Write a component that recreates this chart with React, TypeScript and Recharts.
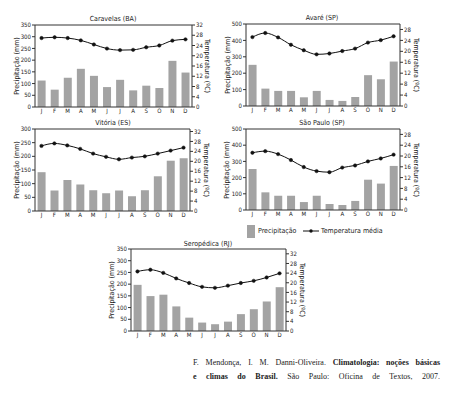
import React from 'react';
import {
  ComposedChart,
  Bar,
  Line,
  XAxis,
  YAxis,
  ReferenceLine,
} from 'recharts';

const months = ['J', 'F', 'M', 'A', 'M', 'J', 'J', 'A', 'S', 'O', 'N', 'D'];

// Caravelas (BA)
const caravelasPrec = [113, 74, 125, 163, 133, 85, 116, 71, 91, 81, 197, 147];
const caravelasTemp = [26.9, 27.2, 26.9, 26.0, 24.4, 22.8, 22.2, 22.3, 23.3, 24.0, 25.9, 26.4];

// Avaré (SP)
const avarePrec = [251, 106, 92, 92, 53, 92, 37, 31, 55, 188, 163, 271];
const avareTemp = [25.2, 26.7, 25.1, 22.4, 20.4, 18.9, 19.2, 20.1, 21.0, 23.2, 24.1, 25.5];

// Vitória (ES)
const vitoriaPrec = [142, 75, 113, 97, 76, 65, 75, 54, 76, 127, 184, 193];
const vitoriaTemp = [26.2, 27.2, 26.4, 25.0, 23.1, 21.8, 20.8, 21.5, 22.0, 23.1, 24.3, 25.5];

// São Paulo (SP)
const saoPauloPrec = [253, 109, 88, 88, 49, 88, 37, 31, 56, 187, 163, 272];
const saoPauloTemp = [21.2, 21.8, 20.7, 18.5, 15.9, 14.4, 14.0, 15.7, 16.5, 18.0, 19.1, 20.5];

// Seropédica (RJ)
const seropedicaPrec = [197, 149, 155, 105, 57, 36, 29, 40, 72, 93, 126, 187];
const seropedicaTemp = [24.7, 25.4, 24.1, 21.8, 19.9, 18.3, 17.9, 18.8, 19.9, 20.8, 22.2, 23.9];

const ticks350 = [0, 50, 100, 150, 200, 250, 300, 350];
const ticks300 = [0, 50, 100, 150, 200, 250, 300];
const ticks500 = [0, 100, 200, 300, 400, 500];
const ticks32 = [0, 4, 8, 12, 16, 20, 24, 28, 32];
const ticks28 = [0, 4, 8, 12, 16, 20, 24, 28];

const FONT = '"DejaVu Sans Condensed", sans-serif';
const BAR = '#a3a3a3';

type Box = { x0: number; y0: number; x1: number; y1: number };

type ClimoProps = {
  title: string;
  prec: number[];
  temp: number[];
  leftMax: number;
  leftTicks: number[];
  rightMax: number;
  rightTicks: number[];
  box: Box;
  titleX: number;
  titleY: number;
  leftLabelX: number;
  rightLabelX: number;
};

const TOP = 8;
const SIDE = 30;
const XH = 13;

function Climogram(props: ClimoProps) {
  const { box } = props;
  const data = months.map((m, i) => ({ m, p: props.prec[i], t: props.temp[i] }));
  const plotW = box.x1 - box.x0;
  const plotH = box.y1 - box.y0;
  const midY = (box.y0 + box.y1) / 2;
  const tickStyle = { fontSize: 6, fill: '#222', fontFamily: FONT };
  const labelStyle: React.CSSProperties = {
    position: 'absolute',
    top: midY,
    fontSize: 7,
    fontFamily: FONT,
    whiteSpace: 'nowrap',
    color: '#222',
    lineHeight: '8px',
  };
  return (
    <>
      <div
        style={{
          position: 'absolute',
          left: props.titleX,
          top: props.titleY,
          transform: 'translate(-50%, -50%)',
          fontSize: 7,
          fontFamily: FONT,
          whiteSpace: 'nowrap',
          color: '#222',
        }}
      >
        {props.title}
      </div>
      <div
        style={{
          ...labelStyle,
          left: props.leftLabelX,
          transform: 'translate(-50%, -50%) rotate(-90deg)',
        }}
      >
        Precipitação (mm)
      </div>
      <div
        style={{
          ...labelStyle,
          left: props.rightLabelX,
          transform: 'translate(-50%, -50%) rotate(90deg)',
        }}
      >
        Temperatura (ºC)
      </div>
      <div style={{ position: 'absolute', left: box.x0 - SIDE, top: box.y0 - TOP }}>
        <ComposedChart
          width={plotW + SIDE * 2}
          height={plotH + TOP + XH}
          data={data}
          margin={{ top: TOP, right: 0, bottom: 0, left: 0 }}
          barCategoryGap="20%"
        >
          <XAxis
            dataKey="m"
            height={XH}
            tick={tickStyle}
            tickLine={false}
            tickSize={2}
            axisLine={{ stroke: '#333' }}
            interval={0}
            tickMargin={0}
          />
          <YAxis
            yAxisId="left"
            width={SIDE}
            domain={[0, props.leftMax]}
            ticks={props.leftTicks}
            tick={tickStyle}
            tickSize={3}
            tickMargin={1}
            axisLine={{ stroke: '#333' }}
            tickLine={{ stroke: '#333' }}
            interval={0}
          />
          <YAxis
            yAxisId="right"
            orientation="right"
            width={SIDE}
            domain={[0, props.rightMax]}
            ticks={props.rightTicks}
            tick={tickStyle}
            tickSize={3}
            tickMargin={1}
            axisLine={{ stroke: '#333' }}
            tickLine={{ stroke: '#333' }}
            interval={0}
          />
          <ReferenceLine yAxisId="left" y={props.leftMax} stroke="#333" />
          <Bar yAxisId="left" dataKey="p" fill={BAR} isAnimationActive={false} />
          <Line
            yAxisId="right"
            dataKey="t"
            type="monotone"
            stroke="#111"
            strokeWidth={1}
            dot={{ r: 1.7, fill: '#111', stroke: '#111', strokeWidth: 0.5 }}
            isAnimationActive={false}
          />
        </ComposedChart>
      </div>
    </>
  );
}

export default function App() {
  return (
    <div
      style={{
        position: 'absolute',
        left: 0,
        top: 0,
        width: 450,
        height: 399,
        background: '#fff',
        overflow: 'hidden',
      }}
    >
      <Climogram
        title="Caravelas (BA)"
        prec={caravelasPrec}
        temp={caravelasTemp}
        leftMax={350}
        leftTicks={ticks350}
        rightMax={32}
        rightTicks={ticks32}
        box={{ x0: 35, y0: 25, x1: 192, y1: 107 }}
        titleX={113}
        titleY={19}
        leftLabelX={17}
        rightLabelX={207}
      />
      <Climogram
        title="Avaré (SP)"
        prec={avarePrec}
        temp={avareTemp}
        leftMax={500}
        leftTicks={ticks500}
        rightMax={30}
        rightTicks={ticks28}
        box={{ x0: 246, y0: 24, x1: 400, y1: 106 }}
        titleX={322}
        titleY={18}
        leftLabelX={228}
        rightLabelX={416}
      />
      <Climogram
        title="Vitória (ES)"
        prec={vitoriaPrec}
        temp={vitoriaTemp}
        leftMax={300}
        leftTicks={ticks300}
        rightMax={33}
        rightTicks={ticks32}
        box={{ x0: 35, y0: 129, x1: 190, y1: 211 }}
        titleX={113}
        titleY={123}
        leftLabelX={17}
        rightLabelX={206}
      />
      <Climogram
        title="São Paulo (SP)"
        prec={saoPauloPrec}
        temp={saoPauloTemp}
        leftMax={500}
        leftTicks={ticks500}
        rightMax={30}
        rightTicks={ticks28}
        box={{ x0: 246, y0: 129, x1: 400, y1: 210 }}
        titleX={322}
        titleY={123}
        leftLabelX={227}
        rightLabelX={416}
      />
      <Climogram
        title="Seropédica (RJ)"
        prec={seropedicaPrec}
        temp={seropedicaTemp}
        leftMax={350}
        leftTicks={ticks350}
        rightMax={34}
        rightTicks={ticks32}
        box={{ x0: 131, y0: 249, x1: 286, y1: 331 }}
        titleX={208}
        titleY={244}
        leftLabelX={112}
        rightLabelX={302}
      />

      {/* legend */}
      <div style={{ position: 'absolute', left: 247, top: 225, width: 8, height: 13, background: BAR }} />
      <div
        style={{
          position: 'absolute',
          left: 258,
          top: 231,
          transform: 'translateY(-50%)',
          fontSize: 7,
          fontFamily: FONT,
          color: '#222',
          whiteSpace: 'nowrap',
        }}
      >
        Precipitação
      </div>
      <svg style={{ position: 'absolute', left: 302, top: 227 }} width={18} height={8}>
        <line x1={1} y1={4} x2={17} y2={4} stroke="#111" strokeWidth={1} />
        <circle cx={9} cy={4} r={1.7} fill="#111" />
      </svg>
      <div
        style={{
          position: 'absolute',
          left: 321,
          top: 231,
          transform: 'translateY(-50%)',
          fontSize: 7,
          fontFamily: FONT,
          color: '#222',
          whiteSpace: 'nowrap',
        }}
      >
        Temperatura média
      </div>

      {/* source */}
      <div
        style={{
          position: 'absolute',
          left: 193,
          top: 356,
          width: 247,
          fontFamily: '"Liberation Serif", serif',
          fontSize: 8,
          lineHeight: '14px',
          color: '#222',
        }}
      >
        <div style={{ textAlign: 'justify', textAlignLast: 'justify', whiteSpace: 'nowrap' }}>
          F. Mendonça, I. M. Danni-Oliveira. <b>Climatologia: noções básicas</b>
        </div>
        <div style={{ textAlign: 'justify', textAlignLast: 'justify' }}>
          <b>e climas do Brasil.</b> São Paulo: Oficina de Textos, 2007.
        </div>
      </div>
    </div>
  );
}
